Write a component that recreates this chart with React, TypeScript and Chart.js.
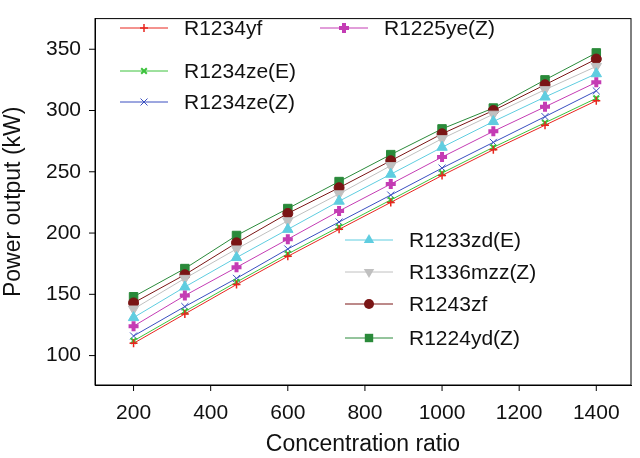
import React, { useEffect, useRef } from "react";
import { Chart, registerables } from "chart.js";
Chart.register(...registerables);

const ratios = [200, 333, 467, 600, 733, 867, 1000, 1133, 1267, 1400];
const yTicks = [100, 150, 200, 250, 300, 350];
const xTicks = [200, 400, 600, 800, 1000, 1200, 1400];
const r1234yf = [110, 134, 158, 181, 203, 225, 247, 268, 288, 308];
const r1234zeE = [112, 136, 160, 183, 205, 227, 249, 270, 290, 310];
const r1234zeZ = [116, 140, 163, 187, 209, 231, 253, 274, 295, 316];
const r1225yeZ = [124, 149, 172, 195, 218, 240, 262, 283, 303, 323];
const r1233zdE = [131, 156, 180, 203, 226, 248, 270, 291, 311, 330];
const r1336mzzZ = [138, 163, 187, 210, 232, 255, 277, 297, 317, 336];
const r1243zf = [143, 166, 192, 216, 237, 259, 281, 300, 321, 342];
const r1224ydZ = [148, 171, 198, 220, 242, 264, 285, 302, 325, 347];

const series = [
  { label: "R1234yf", data: r1234yf, color: "#e8261f", style: "cross", r: 4, bw: 1.5, rot: 0, lg: [120, 28] },
  { label: "R1234ze(E)", data: r1234zeE, color: "#3cc23c", style: "crossRot", r: 4, bw: 2, rot: 0, lg: [120, 71] },
  { label: "R1234ze(Z)", data: r1234zeZ, color: "#3a4fc0", style: "crossRot", r: 5, bw: 1, rot: 0, lg: [120, 102] },
  { label: "R1225ye(Z)", data: r1225yeZ, color: "#c43cb4", style: "cross", r: 5, bw: 4, rot: 0, lg: [320, 28] },
  { label: "R1233zd(E)", data: r1233zdE, color: "#5fcde0", style: "triangle", r: 6, bw: 1, rot: 0, lg: [345, 240] },
  { label: "R1336mzz(Z)", data: r1336mzzZ, color: "#c0c0c0", style: "triangle", r: 6, bw: 1, rot: 180, lg: [345, 272] },
  { label: "R1243zf", data: r1243zf, color: "#7a1515", style: "circle", r: 5, bw: 1, rot: 0, lg: [345, 304] },
  { label: "R1224yd(Z)", data: r1224ydZ, color: "#2a8a3a", style: "rect", r: 6, bw: 1, rot: 0, lg: [345, 338] },
];

function marker(ctx: CanvasRenderingContext2D, s: any, x: number, y: number) {
  const r = s.r;
  ctx.save();
  ctx.translate(x, y);
  ctx.rotate((s.rot * Math.PI) / 180);
  ctx.strokeStyle = s.color; ctx.fillStyle = s.color; ctx.lineWidth = s.bw;
  ctx.beginPath();
  if (s.style === "cross") {
    ctx.moveTo(-r, 0); ctx.lineTo(r, 0); ctx.moveTo(0, -r); ctx.lineTo(0, r); ctx.stroke();
  } else if (s.style === "crossRot") {
    ctx.moveTo(-r * 0.7, -r * 0.7); ctx.lineTo(r * 0.7, r * 0.7);
    ctx.moveTo(-r * 0.7, r * 0.7); ctx.lineTo(r * 0.7, -r * 0.7); ctx.stroke();
  } else if (s.style === "triangle") {
    ctx.moveTo(0, -r); ctx.lineTo(r * 0.87, r * 0.5); ctx.lineTo(-r * 0.87, r * 0.5); ctx.closePath(); ctx.fill();
  } else if (s.style === "circle") {
    ctx.arc(0, 0, r, 0, Math.PI * 2); ctx.fill();
  } else {
    ctx.rect(-r * 0.7, -r * 0.7, r * 1.4, r * 1.4); ctx.fill();
  }
  ctx.restore();
}

const FONT = "'Liberation Sans', Arial, sans-serif";

export default function App() {
  const ref = useRef<HTMLCanvasElement>(null);
  useEffect(() => {
    const ctx = ref.current!.getContext("2d")!;
    const chart = new Chart(ctx, {
      type: "line",
      data: {
        datasets: series.map((s) => ({
          label: s.label,
          data: s.data.map((v, i) => ({ x: ratios[i], y: v })),
          borderColor: s.color,
          backgroundColor: s.color,
          borderWidth: 1,
          pointStyle: s.style as any,
          pointRadius: s.r,
          pointBorderWidth: s.bw,
          pointRotation: s.rot,
          tension: 0,
        })),
      },
      options: {
        responsive: false,
        animation: false,
        layout: { padding: { top: 8, right: 8, left: 0, bottom: 0 } },
        plugins: { legend: { display: false }, tooltip: { enabled: false } },
        scales: {
          x: {
            type: "linear",
            min: 100,
            max: 1490,
            afterBuildTicks: (s: any) => { s.ticks = xTicks.map((v) => ({ value: v })); },
            afterFit: (s: any) => { s.height = 73; },
            grid: { display: false },
            border: { color: "#000", width: 1 },
            ticks: { color: "#111", font: { size: 21, family: FONT }, padding: 8, callback: (v: any) => String(v) },
            title: { display: true, text: "Concentration ratio", color: "#111", font: { size: 23, family: FONT }, padding: { top: -4, bottom: 0 } },
          },
          y: {
            min: 76,
            max: 375,
            afterBuildTicks: (s: any) => { s.ticks = yTicks.map((v) => ({ value: v })); },
            afterFit: (s: any) => { s.width = 95; },
            grid: { display: false },
            border: { color: "#000", width: 1 },
            ticks: { color: "#111", font: { size: 21, family: FONT }, padding: 6 },
            title: { display: true, text: "Power output (kW)", color: "#111", font: { size: 23, family: FONT }, padding: 0 },
          },
        },
      },
      plugins: [
        { id: "box", afterDraw(c: any) {
          const a = c.chartArea; const g = c.ctx; g.save(); g.strokeStyle = "#000"; g.lineWidth = 1;
          g.strokeRect(a.left, a.top, a.right - a.left, a.bottom - a.top);
          g.beginPath();
          xTicks.forEach((v) => { const p = c.scales.x.getPixelForValue(v); g.moveTo(p, a.bottom); g.lineTo(p, a.bottom + 6); });
          yTicks.forEach((v) => { const p = c.scales.y.getPixelForValue(v); g.moveTo(a.left, p); g.lineTo(a.left - 6, p); });
          g.stroke();
          g.restore();
        } },
        { id: "customLegend", afterDraw(c: any) {
          const g = c.ctx;
          g.save();
          series.forEach((s) => {
            const [x, y] = s.lg;
            g.strokeStyle = s.color; g.lineWidth = 1;
            g.beginPath(); g.moveTo(x, y); g.lineTo(x + 48, y); g.stroke();
            marker(g, s, x + 24, y);
            g.fillStyle = "#111";
            g.font = "21px " + FONT;
            g.textBaseline = "middle";
            g.fillText(s.label, x + 64, y + 1);
          });
          g.restore();
        } },
      ],
    });
    return () => chart.destroy();
  }, []);
  return (
    <div style={{ position: "fixed", left: 0, top: 0, width: 640, height: 458, background: "#fff" }}>
      <canvas ref={ref} width={640} height={458} />
    </div>
  );
}
